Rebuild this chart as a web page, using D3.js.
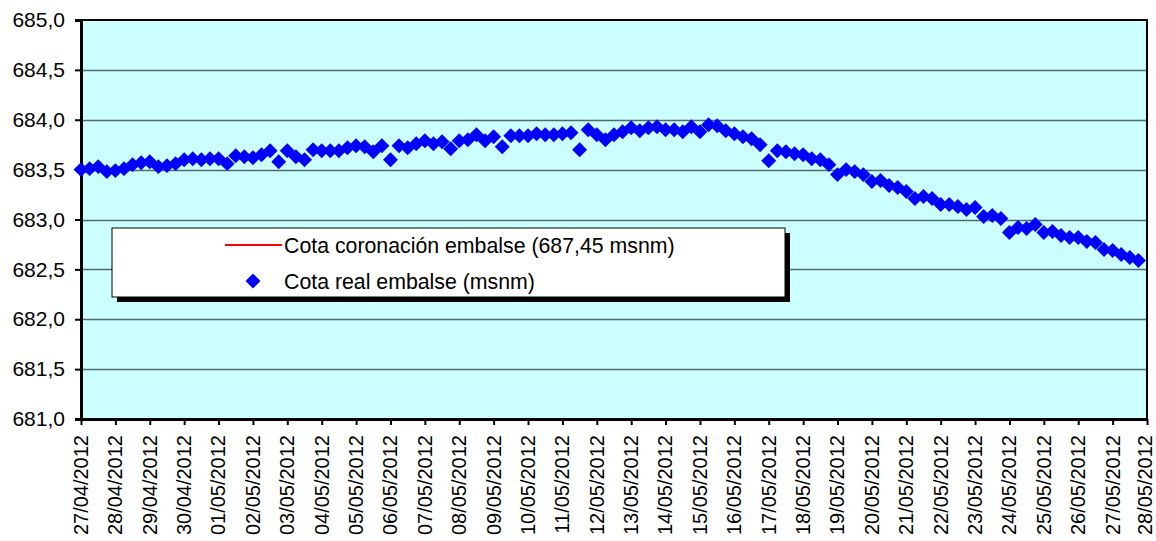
<!DOCTYPE html>
<html>
<head>
<meta charset="utf-8">
<script src="https://cdn.jsdelivr.net/npm/d3@7"></script>
<style>
  html, body { margin: 0; padding: 0; background: #ffffff; }
  svg { display: block; font-family: Arial, "Liberation Sans", sans-serif; }
</style>
</head>
<body>
<div id="chart"></div>
<script>
// ---- DATA ----
const startDate = "27/04/2012";
const endDate = "28/05/2012";
const stepHours = 6; // one reading every 6 hours
const cotaReal = [
  683.50, 683.51, 683.53, 683.48, 683.49, 683.51, 683.55, 683.57, 683.58, 683.53,
  683.54, 683.56, 683.60, 683.61, 683.60, 683.61, 683.61, 683.56, 683.64, 683.63,
  683.62, 683.65, 683.69, 683.58, 683.69, 683.63, 683.60, 683.70, 683.69, 683.69,
  683.69, 683.72, 683.74, 683.73, 683.68, 683.74, 683.60, 683.74, 683.72, 683.76,
  683.79, 683.76, 683.78, 683.71, 683.79, 683.80, 683.85, 683.79, 683.83, 683.73,
  683.84, 683.84, 683.84, 683.86, 683.85, 683.85, 683.86, 683.87, 683.70, 683.90,
  683.85, 683.80, 683.85, 683.88, 683.92, 683.89, 683.92, 683.93, 683.90, 683.90,
  683.88, 683.93, 683.88, 683.95, 683.94, 683.89, 683.86, 683.83, 683.81, 683.75,
  683.59, 683.69, 683.68, 683.66, 683.65, 683.61, 683.60, 683.55, 683.45, 683.50,
  683.48, 683.45, 683.38, 683.39, 683.34, 683.32, 683.28, 683.21, 683.23, 683.21,
  683.15, 683.15, 683.13, 683.10, 683.12, 683.03, 683.04, 683.01, 682.87, 682.92,
  682.91, 682.95, 682.87, 682.88, 682.84, 682.82, 682.82, 682.78, 682.77, 682.70,
  682.69, 682.65, 682.62, 682.59
];
const cotaCoronacion = 687.45; // off the visible range
const yDomain = [681.0, 685.0];
const yTickStep = 0.5;
const legendLabels = ["Cota coronación embalse (687,45 msnm)", "Cota real embalse (msnm)"];

// ---- LAYOUT ----
const W = 1156, H = 541;
const plot = { left: 81, right: 1147, top: 20, bottom: 419 };

const parse = d3.timeParse("%d/%m/%Y");
const t0 = parse(startDate), t1 = parse(endDate);
const data = cotaReal.map((v, i) => ({ date: d3.timeHour.offset(t0, i * stepHours), value: v }));

const x = d3.scaleTime().domain([t0, t1]).range([plot.left, plot.right]);
const y = d3.scaleLinear().domain(yDomain).range([plot.bottom, plot.top]);

const locale = d3.formatLocale({ decimal: ",", thousands: ".", grouping: [3], currency: ["", "€"] });
const yFmt = locale.format(".1f");
const xFmt = d3.timeFormat("%d/%m/%Y");

const svg = d3.select("#chart").append("svg").attr("width", W).attr("height", H);

// plot background
svg.append("rect")
  .attr("x", plot.left).attr("y", plot.top)
  .attr("width", plot.right - plot.left).attr("height", plot.bottom - plot.top)
  .attr("fill", "#CCFFFF");

// gridlines
const yTicks = d3.range(yDomain[0], yDomain[1] + 1e-9, yTickStep);
svg.append("g").selectAll("line").data(yTicks.slice(1, -1)).join("line")
  .attr("x1", plot.left).attr("x2", plot.right)
  .attr("y1", d => Math.round(y(d)) + 0.5).attr("y2", d => Math.round(y(d)) + 0.5)
  .attr("stroke", "#4f6b6b").attr("stroke-width", 1.3);

// plot border
svg.append("rect")
  .attr("x", plot.left).attr("y", plot.top)
  .attr("width", plot.right - plot.left).attr("height", plot.bottom - plot.top)
  .attr("fill", "none").attr("stroke", "#000").attr("stroke-width", 2);

// Y axis
const yAxis = d3.axisLeft(y).tickValues(yTicks).tickFormat(yFmt).tickSize(6).tickPadding(10);
const gy = svg.append("g").attr("transform", `translate(${plot.left},0)`).call(yAxis);
gy.select(".domain").attr("stroke", "#000").attr("stroke-width", 3);
gy.selectAll(".tick line").attr("stroke", "#000").attr("stroke-width", 2);
gy.selectAll(".tick text").attr("font-size", 21).attr("fill", "#000")
  .attr("font-family", "Arial, 'Liberation Sans', sans-serif");

// X axis
const xTicks = d3.timeDay.range(t0, d3.timeDay.offset(t1, 1));
const xAxis = d3.axisBottom(x).tickValues(xTicks).tickFormat(xFmt).tickSize(6).tickSizeOuter(0);
const gx = svg.append("g").attr("transform", `translate(0,${plot.bottom})`).call(xAxis);
gx.select(".domain").attr("stroke", "#000").attr("stroke-width", 3);
gx.selectAll(".tick line").attr("stroke", "#000").attr("stroke-width", 2);
gx.selectAll(".tick text")
  .attr("font-size", 20).attr("fill", "#000")
  .attr("font-family", "Arial, 'Liberation Sans', sans-serif")
  .attr("text-anchor", "end")
  .attr("transform", "rotate(-90)")
  .attr("x", -16).attr("y", 0)
  .attr("dy", (d, i) => i === xTicks.length - 1 ? "0.2em" : "0.32em");

// data points (diamonds = rotated squares)
const sq = d3.symbol().type(d3.symbolSquare).size(112);
svg.append("g").selectAll("path").data(data).join("path")
  .attr("d", sq)
  .attr("transform", d => `translate(${x(d.date)},${y(d.value)}) rotate(45)`)
  .attr("fill", "#0000FF");

// coronación line (outside of visible domain -> clipped, nothing drawn)
svg.append("defs").append("clipPath").attr("id", "clip")
  .append("rect").attr("x", plot.left).attr("y", plot.top)
  .attr("width", plot.right - plot.left).attr("height", plot.bottom - plot.top);
svg.append("line")
  .attr("clip-path", "url(#clip)")
  .attr("x1", x(t0)).attr("x2", x(t1))
  .attr("y1", y(cotaCoronacion)).attr("y2", y(cotaCoronacion))
  .attr("stroke", "#FF0000").attr("stroke-width", 2);

// legend
const lg = { x: 112, y: 228, w: 673, h: 69, sh: 5 };
svg.append("rect").attr("x", lg.x + lg.sh).attr("y", lg.y + lg.sh)
  .attr("width", lg.w).attr("height", lg.h).attr("fill", "#000");
svg.append("rect").attr("x", lg.x).attr("y", lg.y)
  .attr("width", lg.w).attr("height", lg.h).attr("fill", "#fff")
  .attr("stroke", "#000").attr("stroke-width", 1);

const row1 = 245, row2 = 281, textX = 284;
svg.append("line").attr("x1", 225).attr("x2", 282).attr("y1", row1).attr("y2", row1)
  .attr("stroke", "#FF0000").attr("stroke-width", 2);
svg.append("path").attr("d", sq).attr("transform", `translate(253,${row2}) rotate(45)`).attr("fill", "#0000FF");
svg.selectAll("text.lg").data(legendLabels).join("text").attr("class", "lg")
  .attr("x", textX).attr("y", (d, i) => i === 0 ? row1 : row2).attr("dy", "0.36em")
  .attr("font-size", 21.3).attr("fill", "#000")
  .text(d => d);
</script>
</body>
</html>
